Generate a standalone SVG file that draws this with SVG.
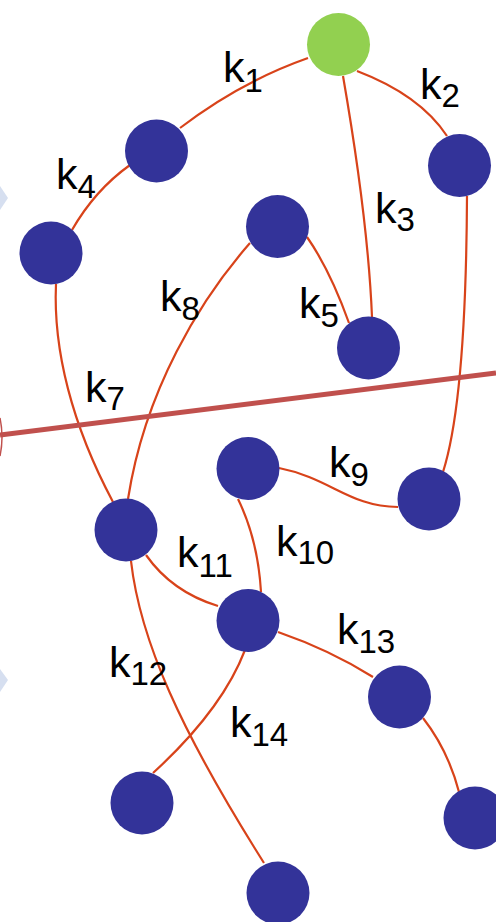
<svg xmlns="http://www.w3.org/2000/svg" width="496" height="922" viewBox="0 0 496 922">
<style>
.e{fill:none;stroke:#d8431a;stroke-width:2.2}
.n{fill:#333399}
.g{fill:#92d050}
.l{font-family:"Liberation Sans",Arial,sans-serif;font-size:43px;fill:#000}
.s{font-size:33px}
</style>
<rect width="496" height="922" fill="#fff"/>
<g id="deco">
<polygon points="0,186 8,198 0,210" fill="#d6dff0"/>
<polygon points="0,669 8,680 0,692" fill="#d6dff0"/>
<path d="M0,418 Q4,437 0,456" fill="none" stroke="#c0504d" stroke-width="1.5"/>
</g>
<g id="connectors">
<path class="e" d="M308,58 Q240,82 180,128"/>
<path class="e" d="M357,71 Q420,95 447,136"/>
<path class="e" d="M343,76 Q368,220 372,317"/>
<path class="e" d="M467,196 Q466,400 443,472"/>
<path class="e" d="M130,165 Q95,190 72,230"/>
<path class="e" d="M307,237 Q330,270 349,323"/>
<path class="e" d="M56,284 C53,350 72,425 113,502"/>
<path class="e" d="M250,243 C200,300 145,390 128,499"/>
<path class="e" d="M279,468 C330,478 350,507 398,507"/>
<path class="e" d="M238,499 Q258,540 261,592"/>
<path class="e" d="M146,555 Q172,592 218,606"/>
<path class="e" d="M131,561 C140,640 180,730 264,863"/>
<path class="e" d="M278,632 Q330,650 373,677"/>
<path class="e" d="M245,650 Q222,710 153,773"/>
<path class="e" d="M423,718 Q448,750 459,792"/>
</g>
<line id="cut" x1="0" y1="435" x2="496" y2="373" stroke="#c0504d" stroke-width="5"/>
<g id="root"><circle class="g" cx="338.5" cy="44.5" r="31.5"/></g>
<g id="n1"><circle class="n" cx="156.5" cy="151" r="31.5"/></g>
<g id="n2"><circle class="n" cx="459.5" cy="165.5" r="31.5"/></g>
<g id="n4"><circle class="n" cx="51" cy="253" r="31.5"/></g>
<g id="n5a"><circle class="n" cx="277.5" cy="226.5" r="31.5"/></g>
<g id="n5b"><circle class="n" cx="368.5" cy="348" r="31.5"/></g>
<g id="n9a"><circle class="n" cx="248" cy="468.5" r="31.5"/></g>
<g id="n9b"><circle class="n" cx="429" cy="499" r="31.5"/></g>
<g id="n7"><circle class="n" cx="126" cy="530" r="31.5"/></g>
<g id="n11"><circle class="n" cx="248" cy="620.5" r="31.5"/></g>
<g id="n13"><circle class="n" cx="399.5" cy="697" r="31.5"/></g>
<g id="n15"><circle class="n" cx="475" cy="818" r="31.5"/></g>
<g id="n14"><circle class="n" cx="142" cy="803" r="31.5"/></g>
<g id="n12"><circle class="n" cx="278" cy="893" r="31.5"/></g>
<g id="labels">
<text class="l" x="223" y="82">k<tspan class="s" dy="10">1</tspan></text>
<text class="l" x="420" y="99">k<tspan class="s" dy="8">2</tspan></text>
<text class="l" x="375" y="223">k<tspan class="s" dy="8">3</tspan></text>
<text class="l" x="56" y="189">k<tspan class="s" dy="9">4</tspan></text>
<text class="l" x="299" y="318">k<tspan class="s" dy="9">5</tspan></text>
<text class="l" x="85" y="402">k<tspan class="s" dy="8">7</tspan></text>
<text class="l" x="160" y="311">k<tspan class="s" dy="9">8</tspan></text>
<text class="l" x="329" y="477">k<tspan class="s" dy="9">9</tspan></text>
<text class="l" x="276" y="556">k<tspan class="s" dy="8">10</tspan></text>
<text class="l" x="177" y="567">k<tspan class="s" dy="10">11</tspan></text>
<text class="l" x="109" y="677">k<tspan class="s" dy="8">12</tspan></text>
<text class="l" x="337" y="644">k<tspan class="s" dy="9">13</tspan></text>
<text class="l" x="230" y="737">k<tspan class="s" dy="9">14</tspan></text>
</g>
</svg>
